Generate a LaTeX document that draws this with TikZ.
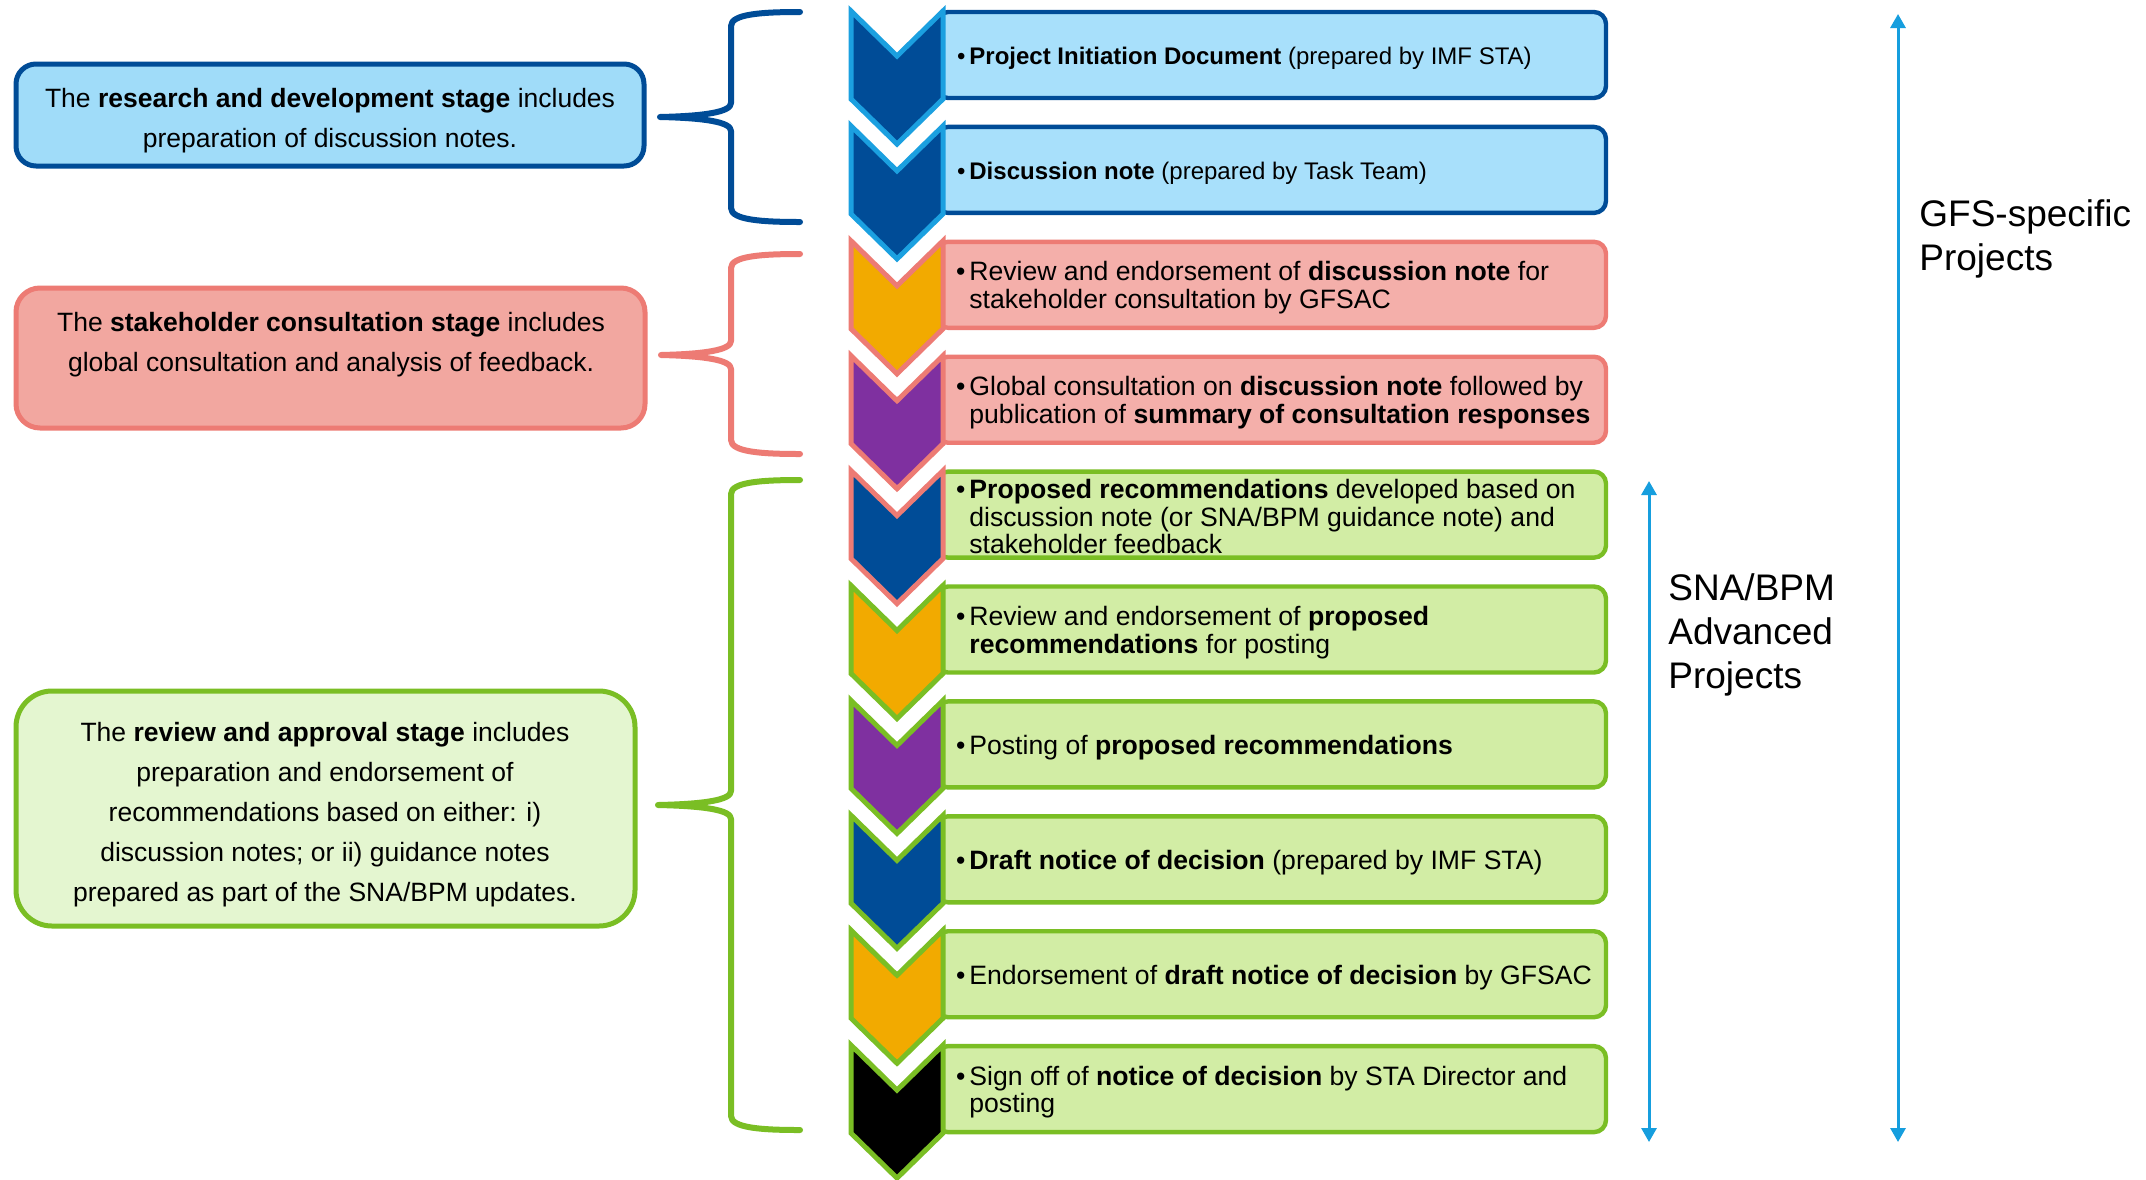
\documentclass[tikz,border=0pt]{standalone}
\usepackage{fontspec}
\setmainfont{Liberation Sans}
\usetikzlibrary{arrows.meta}

\definecolor{dblue}{RGB}{0,76,151}
\definecolor{lblue}{RGB}{27,160,224}
\definecolor{bfill}{RGB}{168,224,251}
\definecolor{bfillL}{RGB}{160,220,249}
\definecolor{salmon}{RGB}{237,123,116}
\definecolor{rfill}{RGB}{244,175,170}
\definecolor{rfillL}{RGB}{242,167,160}
\definecolor{gborder}{RGB}{122,190,36}
\definecolor{gfill}{RGB}{210,237,165}
\definecolor{gfillL}{RGB}{228,246,208}
\definecolor{orng}{RGB}{242,170,0}
\definecolor{purp}{RGB}{127,48,160}
\definecolor{arrblue}{RGB}{22,158,222}

\newcommand{\chev}[3]{%
  \draw[chevshape, fill=#2, draw=#3] (851,#1) -- (897,#1+45) -- (943,#1) -- (943,#1+88) -- (897,#1+133) -- (851,#1+88) -- cycle;}
\newcommand{\stepbar}[3]{%
  \draw[barshape, fill=#2, draw=#3] (936,#1+1) rectangle (1606,#1+87);}
\newcommand{\mybrace}[5]{%
  \draw[braceline, draw=#1] (800,#2) .. controls (762,#2) and (731,#2+2) .. (731,#2+14)
    -- (731,#3-14) .. controls (731,#3-5) and (705,#3-1) .. (#5,#3)
    .. controls (705,#3+1) and (731,#3+5) .. (731,#3+14)
    -- (731,#4-14) .. controls (731,#4-2) and (762,#4) .. (800,#4);}
\newcommand{\bul}{\llap{\textbullet\hspace{2pt}}}

\begin{document}
\begin{tikzpicture}[x=0.5pt,y=-0.5pt,
  chevshape/.style={line width=2.5pt, line join=miter},
  barshape/.style={line width=2.2pt, rounded corners=6pt},
  lboxshape/.style={line width=2.5pt},
  braceline/.style={line width=3pt, line cap=round, line join=round},
  rowtext/.style={anchor=west, inner sep=0pt, align=left, font=\fontsize{13.3pt}{13.7pt}\selectfont},
  rowtextsmall/.style={rowtext, font=\fontsize{12pt}{13pt}\selectfont},
  lefttext/.style={inner sep=0pt, align=center, font=\fontsize{13.25pt}{20pt}\selectfont},
  sidelabel/.style={anchor=west, inner sep=0pt, align=left, font=\fontsize{18.5pt}{22pt}\selectfont},
  spanarrow/.style={draw=arrblue, line width=1.5pt, {Triangle[length=7pt,width=7.5pt]}-{Triangle[length=7pt,width=7.5pt]}}
]
\fill[white] (0,0) rectangle (2146,1179);
\useasboundingbox (0,0) rectangle (2146,1179);

% left stage boxes
\draw[lboxshape, fill=bfillL, draw=dblue, rounded corners=10pt] (16,64) rectangle (644,166);
\node[lefttext] (ltext1) at (330,121) {The \textbf{research and development stage} includes\\preparation of discussion notes.};
\draw[lboxshape, fill=rfillL, draw=salmon, rounded corners=12pt] (16,288) rectangle (645,428);
\node[lefttext] (ltext2) at (331,345) {The \textbf{stakeholder consultation stage} includes\\global consultation and analysis of feedback.};
\draw[lboxshape, fill=gfillL, draw=gborder, rounded corners=18pt] (16,691) rectangle (635,926);
\node[lefttext] (ltext3) at (325,815) {The \textbf{review and approval stage} includes\\preparation and endorsement of\\recommendations based on either: i)\\discussion notes; or ii) guidance notes\\prepared as part of the SNA/BPM updates.};

% braces
\mybrace{dblue}{12}{117}{222}{660}
\mybrace{salmon}{254}{355}{454}{661}
\mybrace{gborder}{480}{805}{1130}{658}

% step bars
\stepbar{11}{bfill}{dblue}
\stepbar{125.9}{bfill}{dblue}
\stepbar{240.8}{rfill}{salmon}
\stepbar{355.7}{rfill}{salmon}
\stepbar{470.6}{gfill}{gborder}
\stepbar{585.5}{gfill}{gborder}
\stepbar{700.4}{gfill}{gborder}
\stepbar{815.3}{gfill}{gborder}
\stepbar{930.2}{gfill}{gborder}
\stepbar{1045.1}{gfill}{gborder}

% chevrons
\chev{11}{dblue}{lblue}
\chev{125.9}{dblue}{lblue}
\chev{240.8}{orng}{salmon}
\chev{355.7}{purp}{salmon}
\chev{470.6}{dblue}{salmon}
\chev{585.5}{orng}{gborder}
\chev{700.4}{purp}{gborder}
\chev{815.3}{dblue}{gborder}
\chev{930.2}{orng}{gborder}
\chev{1045.1}{black}{gborder}

% step texts
\node[rowtextsmall] (s1) at (969,58) {\bul\textbf{Project Initiation Document} (prepared by IMF STA)};
\node[rowtextsmall] (s2) at (969,172.9) {\bul\textbf{Discussion note} (prepared by Task Team)};
\node[rowtext] (s3) at (969,287.8) {\bul Review and endorsement of \textbf{discussion note} for\\stakeholder consultation by GFSAC};
\node[rowtext] (s4) at (969,402.7) {\bul Global consultation on \textbf{discussion note} followed by\\publication of \textbf{summary of consultation responses}};
\node[rowtext] (s5) at (969,516.6) {\bul\textbf{Proposed recommendations} developed based on\\discussion note (or SNA/BPM guidance note) and\\stakeholder feedback};
\node[rowtext] (s6) at (969,632.5) {\bul Review and endorsement of \textbf{proposed}\\\textbf{recommendations} for posting};
\node[rowtext] (s7) at (969,747.4) {\bul Posting of \textbf{proposed recommendations}};
\node[rowtext] (s8) at (969,862.3) {\bul\textbf{Draft notice of decision} (prepared by IMF STA)};
\node[rowtext] (s9) at (969,977.2) {\bul Endorsement of \textbf{draft notice of decision} by GFSAC};
\node[rowtext] (s10) at (969,1092.1) {\bul Sign off of \textbf{notice of decision} by STA Director and\\posting};

% span arrows
\coordinate (gfsTop) at (1898,14);
\coordinate (gfsBot) at (1898,1142);
\coordinate (snaTop) at (1649,481);
\coordinate (snaBot) at (1649,1142);
\draw[spanarrow] (gfsTop) -- (gfsBot);
\draw[spanarrow] (snaTop) -- (snaBot);

\node[sidelabel] (gfslabel) at (1919,239) {GFS-specific\\Projects};
\node[sidelabel] (snalabel) at (1668,634.5) {SNA/BPM\\Advanced\\Projects};
\end{tikzpicture}
\end{document}
